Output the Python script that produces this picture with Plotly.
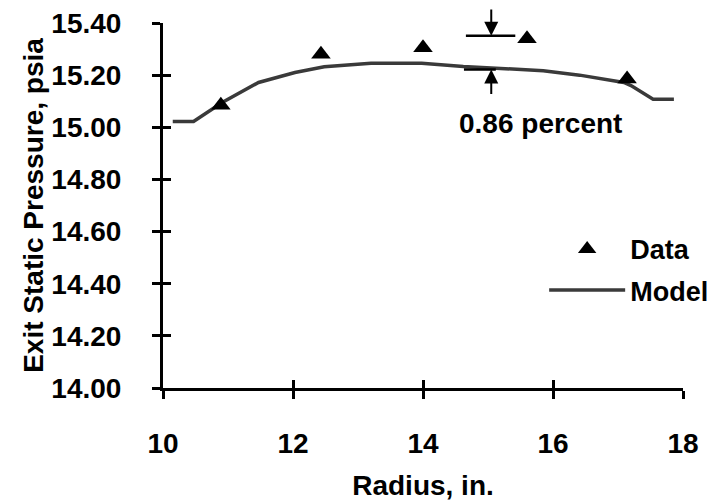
import plotly.graph_objects as go

# ---- data ----
data_radius = [10.89, 12.43, 14.0, 15.6, 17.14]
data_pressure = [15.085, 15.28, 15.305, 15.34, 15.185]

model_radius = [10.15, 10.47, 10.91, 11.47, 12.03, 12.48, 13.2, 13.98, 14.62,
                15.28, 15.85, 16.41, 17.09, 17.2, 17.54, 17.86]
model_pressure = [15.022, 15.022, 15.095, 15.172, 15.21, 15.232, 15.246, 15.246,
                  15.233, 15.226, 15.217, 15.2, 15.172, 15.16, 15.108, 15.108]

bar_radius = [14.66, 15.42]
bar_upper = 15.351
bar_lower_radius = [14.63, 15.12]
bar_lower = 15.222
arrow_radius = 15.05
note_radius = 15.8
note_pressure = 15.013
note_text = "0.86 percent"

x_ticks = [10, 12, 14, 16, 18]
y_ticks = [14.0, 14.2, 14.4, 14.6, 14.8, 15.0, 15.2, 15.4]

FONT = "Liberation Sans, Arial, sans-serif"
FS = 28

fig = go.Figure()

fig.add_trace(go.Scatter(
    x=data_radius, y=data_pressure, mode="markers", name="<b>Data</b>",
    marker=dict(symbol="triangle-up", size=17, color="black"),
    legendgroup="a", xaxis="x2", yaxis="y2"))

fig.add_trace(go.Scatter(
    x=model_radius, y=model_pressure, mode="lines", name="<b>Model</b>",
    line=dict(color="#3a3a3a", width=3.5), legendgroup="b",
    xaxis="x", yaxis="y"))

fig.add_trace(go.Scatter(
    x=bar_radius, y=[bar_upper, bar_upper], mode="lines", showlegend=False,
    line=dict(color="black", width=2.5), xaxis="x", yaxis="y"))
fig.add_trace(go.Scatter(
    x=bar_lower_radius, y=[bar_lower, bar_lower], mode="lines", showlegend=False,
    line=dict(color="black", width=2.5), xaxis="x", yaxis="y"))

fig.add_annotation(x=arrow_radius, y=bar_upper, ax=0, ay=-30, xref="x", yref="y",
                   showarrow=True, arrowhead=2, arrowsize=1.4, arrowwidth=2,
                   arrowcolor="black", text="")
fig.add_annotation(x=arrow_radius, y=bar_lower, ax=0, ay=26, xref="x", yref="y",
                   showarrow=True, arrowhead=2, arrowsize=1.4, arrowwidth=2,
                   arrowcolor="black", text="")
fig.add_annotation(x=note_radius, y=note_pressure, xref="x", yref="y",
                   text="<b>" + note_text + "</b>", showarrow=False,
                   font=dict(family=FONT, size=FS, color="black"))

axis_common = dict(showgrid=False, zeroline=False, tickwidth=3, ticklen=8,
                   tickcolor="black", automargin=False)

fig.update_layout(
    width=740, height=510,
    margin=dict(l=155, r=65, t=15, b=130),
    plot_bgcolor="white", paper_bgcolor="white",
    font=dict(family=FONT, size=FS, color="black"),
    xaxis=dict(range=[10, 18], tickvals=x_ticks,
               ticktext=["<b>%d</b>" % v for v in x_ticks],
               ticks="outside", showline=True, linewidth=3, linecolor="black",
               ticklabelstandoff=20, ticklabeloverflow="allow",
               title=dict(text="<b>Radius, in.</b>", standoff=18,
                          font=dict(size=FS)),
               **axis_common),
    yaxis=dict(range=[14, 15.4], tickvals=y_ticks,
               ticktext=["<b>%.2f</b>" % v for v in y_ticks],
               ticks="outside", showline=True, linewidth=3, linecolor="black",
               ticklabelstandoff=25, ticklabeloverflow="allow",
               title=dict(text="<b>Exit Static Pressure, psia</b>", standoff=0,
                          font=dict(size=FS)),
               **axis_common),
    xaxis2=dict(range=[10, 18], tickvals=x_ticks, overlaying="x", anchor="y2",
                side="bottom", ticks="inside", showticklabels=False,
                showline=False, **axis_common),
    yaxis2=dict(range=[14, 15.4], tickvals=y_ticks, overlaying="y", anchor="x2",
                side="left", ticks="inside", showticklabels=False,
                showline=False, **axis_common),
    legend=dict(x=0.733, y=0.447, xanchor="left", yanchor="top",
                bgcolor="rgba(0,0,0,0)", traceorder="grouped",
                tracegroupgap=3, font=dict(family=FONT, size=27),
                itemwidth=76),
)

fig.write_html("out.html")
